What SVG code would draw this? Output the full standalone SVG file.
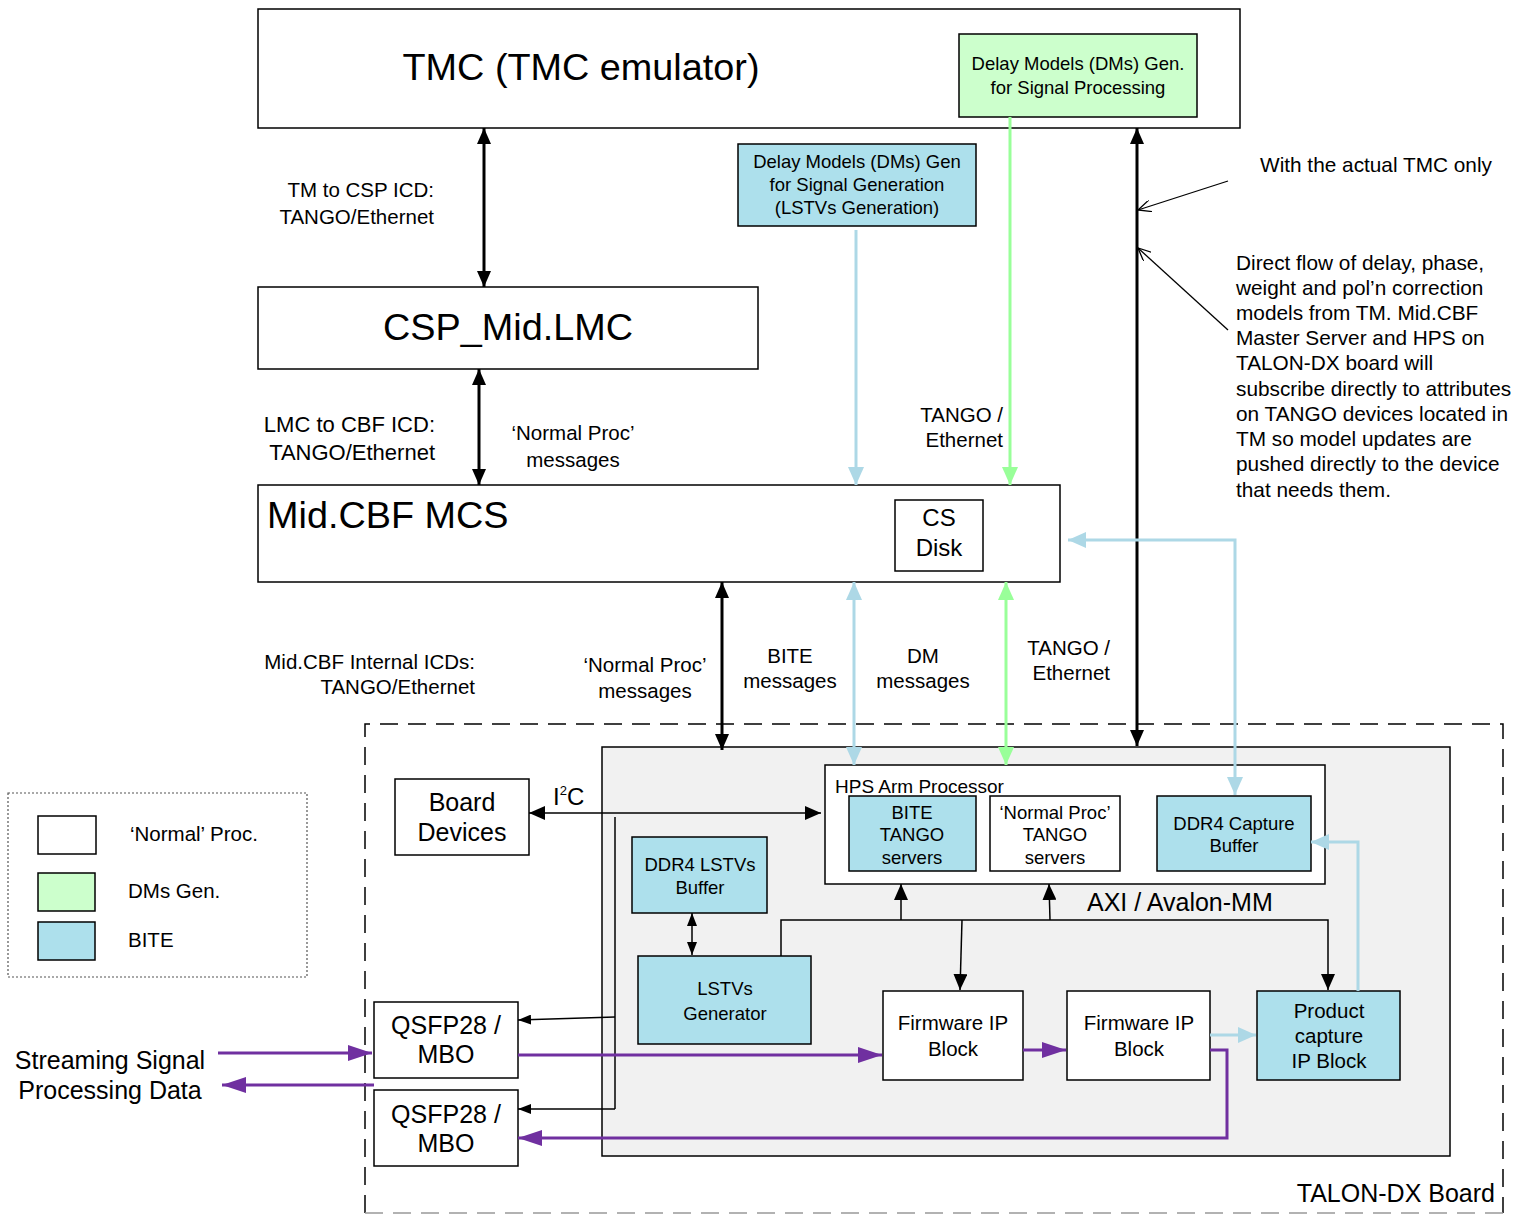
<svg xmlns="http://www.w3.org/2000/svg" width="1517" height="1215" viewBox="0 0 1517 1215">
<style>
text{font-family:"Liberation Sans",Arial,sans-serif;fill:#000}
.box{fill:#fff;stroke:#000;stroke-width:1.5}
.bite{fill:#ade0ec;stroke:#000;stroke-width:1.5}
.dm{fill:#ccffcc;stroke:#000;stroke-width:1.5}
.c{text-anchor:middle}
.e{text-anchor:end}
.blk{stroke:#000;stroke-width:3;fill:none}
.thin{stroke:#000;stroke-width:1.5;fill:none}
.blu{stroke:#add8e6;stroke-width:3;fill:none}
.grn{stroke:#99ff99;stroke-width:3;fill:none}
.pur{stroke:#7030a0;stroke-width:3;fill:none}
.f18{font-size:18.5px}
.f20{font-size:20.5px}
.f25{font-size:25px}
.big{font-size:37.8px}
</style>
<defs>
<marker id="ak" markerUnits="userSpaceOnUse" markerWidth="16" markerHeight="14" refX="16" refY="7" orient="auto-start-reverse"><path d="M0,0 L16,7 L0,14 z" fill="#000"/></marker>
<marker id="aks" markerUnits="userSpaceOnUse" markerWidth="13" markerHeight="10" refX="13" refY="5" orient="auto-start-reverse"><path d="M0,0 L13,5 L0,10 z" fill="#000"/></marker>
<marker id="ab" markerUnits="userSpaceOnUse" markerWidth="18" markerHeight="16" refX="18" refY="8" orient="auto-start-reverse"><path d="M0,0 L18,8 L0,16 z" fill="#add8e6"/></marker>
<marker id="ag" markerUnits="userSpaceOnUse" markerWidth="18" markerHeight="16" refX="18" refY="8" orient="auto-start-reverse"><path d="M0,0 L18,8 L0,16 z" fill="#99ff99"/></marker>
<marker id="ap" markerUnits="userSpaceOnUse" markerWidth="24" markerHeight="16" refX="24" refY="8" orient="auto-start-reverse"><path d="M0,0 L24,8 L0,16 z" fill="#7030a0"/></marker>
<marker id="ao" markerUnits="userSpaceOnUse" markerWidth="14" markerHeight="12" refX="13" refY="6" orient="auto"><path d="M0,0 L13,6 L0,12" fill="none" stroke="#000" stroke-width="1.3"/></marker>
</defs>

<!-- containers -->
<g id="talon-board">
<path d="M365,1213 V724 H1503 V1213" fill="none" stroke="#000" stroke-width="1.5" stroke-dasharray="18 10"/>
<path d="M365,1213 H1503" fill="none" stroke="#999" stroke-width="1.5" stroke-dasharray="18 10"/>
<text class="f25 e" x="1495" y="1202">TALON-DX Board</text>
</g>
<g id="fpga-area">
<rect x="602" y="747" width="848" height="409" fill="#f1f1f1" stroke="#000" stroke-width="1.5"/>
</g>

<g id="legend">
<rect x="8" y="793" width="299" height="184" fill="#fff" stroke="#555" stroke-width="1.2" stroke-dasharray="2 2"/>
<rect class="box" x="38" y="816" width="58" height="38"/>
<rect class="dm" x="38" y="873" width="57" height="38"/>
<rect class="bite" x="38" y="922" width="57" height="38"/>
<text class="f20" x="130" y="841">‘Normal’ Proc.</text>
<text class="f20" x="128" y="898">DMs Gen.</text>
<text class="f20" x="128" y="947">BITE</text>
</g>

<!-- nodes -->
<g id="tmc">
<rect class="box" x="258" y="9" width="982" height="119"/>
<text class="c big" x="581" y="80">TMC (TMC emulator)</text>
</g>
<g id="dm-gen-sp">
<rect class="dm" x="959" y="34" width="238" height="83"/>
<text class="c f18" x="1078" y="69.5">Delay Models (DMs) Gen.</text>
<text class="c f18" x="1078" y="93.5">for Signal Processing</text>
</g>
<g id="dm-gen-sg">
<rect class="bite" x="738" y="144" width="238" height="82"/>
<text class="c f18" x="857" y="167.5">Delay Models (DMs) Gen</text>
<text class="c f18" x="857" y="190.5">for Signal Generation</text>
<text class="c f18" x="857" y="213.5">(LSTVs Generation)</text>
</g>
<g id="csp-lmc">
<rect class="box" x="258" y="287" width="500" height="82"/>
<text class="c big" x="508" y="340">CSP_Mid.LMC</text>
</g>
<g id="mcs">
<rect class="box" x="258" y="485" width="802" height="97"/>
<text class="big" x="267" y="528">Mid.CBF MCS</text>
</g>
<g id="cs-disk">
<rect class="box" x="895" y="500" width="88" height="71"/>
<text class="c" x="939" y="526" font-size="24">CS</text>
<text class="c" x="939" y="556" font-size="24">Disk</text>
</g>
<g id="board-devices">
<rect class="box" x="395" y="779" width="134" height="76"/>
<text class="c f25" x="462" y="811">Board</text>
<text class="c f25" x="462" y="841">Devices</text>
</g>
<g id="hps">
<rect class="box" x="825" y="765" width="500" height="119"/>
<text x="835" y="792.5" font-size="19">HPS Arm Processor</text>
</g>
<g id="bite-tango">
<rect class="bite" x="849" y="796" width="127" height="75"/>
<text class="c f18" x="912" y="818.5">BITE</text>
<text class="c f18" x="912" y="840.5">TANGO</text>
<text class="c f18" x="912" y="863.5">servers</text>
</g>
<g id="normal-tango">
<rect class="box" x="990" y="796" width="130" height="75"/>
<text class="c f18" x="1055" y="818.5">‘Normal Proc’</text>
<text class="c f18" x="1055" y="840.5">TANGO</text>
<text class="c f18" x="1055" y="863.5">servers</text>
</g>
<g id="ddr4-capture">
<rect class="bite" x="1157" y="796" width="154" height="75"/>
<text class="c f18" x="1234" y="829.5">DDR4 Capture</text>
<text class="c f18" x="1234" y="851.5">Buffer</text>
</g>
<g id="ddr4-lstv">
<rect class="bite" x="632" y="837" width="135" height="76"/>
<text class="c f18" x="700" y="870.5">DDR4 LSTVs</text>
<text class="c f18" x="700" y="893.5">Buffer</text>
</g>
<g id="lstv-gen">
<rect class="bite" x="638" y="956" width="173" height="88"/>
<text class="c f18" x="725" y="995">LSTVs</text>
<text class="c f18" x="725" y="1020">Generator</text>
</g>
<g id="fw1">
<rect class="box" x="883" y="991" width="140" height="89"/>
<text class="c f20" x="953" y="1030">Firmware IP</text>
<text class="c f20" x="953" y="1056">Block</text>
</g>
<g id="fw2">
<rect class="box" x="1067" y="991" width="143" height="89"/>
<text class="c f20" x="1139" y="1030">Firmware IP</text>
<text class="c f20" x="1139" y="1056">Block</text>
</g>
<g id="product-capture">
<rect class="bite" x="1257" y="991" width="143" height="89"/>
<text class="c f20" x="1329" y="1018">Product</text>
<text class="c f20" x="1329" y="1043">capture</text>
<text class="c f20" x="1329" y="1068">IP Block</text>
</g>
<g id="qsfp1">
<rect class="box" x="374" y="1002" width="144" height="76"/>
<text class="c f25" x="446" y="1034">QSFP28 /</text>
<text class="c f25" x="446" y="1063">MBO</text>
</g>
<g id="qsfp2">
<rect class="box" x="374" y="1090" width="144" height="76"/>
<text class="c f25" x="446" y="1123">QSFP28 /</text>
<text class="c f25" x="446" y="1152">MBO</text>
</g>

<!-- connectors -->
<g id="connectors">
<line class="blk" x1="484" y1="128" x2="484" y2="287" marker-start="url(#ak)" marker-end="url(#ak)"/>
<line class="blk" x1="479" y1="369" x2="479" y2="485" marker-start="url(#ak)" marker-end="url(#ak)"/>
<line class="blu" x1="856" y1="230" x2="856" y2="485" marker-end="url(#ab)"/>
<line class="grn" x1="1010" y1="117" x2="1010" y2="485" marker-end="url(#ag)"/>
<line class="blk" x1="1137" y1="128" x2="1137" y2="746" marker-start="url(#ak)" marker-end="url(#ak)"/>
<line stroke="#000" stroke-width="1.3" x1="1228" y1="181" x2="1138" y2="210" marker-end="url(#ao)"/>
<line stroke="#000" stroke-width="1.3" x1="1228" y1="330" x2="1138" y2="248" marker-end="url(#ao)"/>
<line class="blk" x1="722" y1="582" x2="722" y2="750" marker-start="url(#ak)" marker-end="url(#ak)"/>
<line class="blu" x1="854" y1="582" x2="854" y2="765" marker-start="url(#ab)" marker-end="url(#ab)"/>
<line class="grn" x1="1006" y1="582" x2="1006" y2="765" marker-start="url(#ag)" marker-end="url(#ag)"/>
<path class="blu" d="M1068,540 H1235 V795" marker-start="url(#ab)" marker-end="url(#ab)"/>
<path class="blu" d="M1358,991 V842 H1311" marker-end="url(#ab)"/>
<line class="thin" x1="529" y1="813" x2="821" y2="813" marker-start="url(#ak)" marker-end="url(#ak)"/>
<path class="thin" d="M615,817 V1109"/>
<line class="thin" x1="615" y1="1017" x2="518" y2="1020" marker-end="url(#aks)"/>
<line class="thin" x1="615" y1="1109" x2="518" y2="1109" marker-end="url(#aks)"/>
<line class="thin" x1="692" y1="913" x2="692" y2="955" marker-start="url(#aks)" marker-end="url(#aks)"/>
<path class="thin" d="M781,956 V920 H1328 V990" marker-end="url(#ak)"/>
<line class="thin" x1="901" y1="920" x2="901" y2="884" marker-end="url(#ak)"/>
<line class="thin" x1="1050" y1="920" x2="1049" y2="884" marker-end="url(#ak)"/>
<line class="thin" x1="962" y1="920" x2="960" y2="990" marker-end="url(#ak)"/>
<line class="pur" x1="218" y1="1053" x2="372" y2="1053" marker-end="url(#ap)"/>
<line class="pur" x1="374" y1="1085" x2="222" y2="1085" marker-end="url(#ap)"/>
<line class="pur" x1="518" y1="1055" x2="882" y2="1055" marker-end="url(#ap)"/>
<line class="pur" x1="1023" y1="1050" x2="1066" y2="1050" marker-end="url(#ap)"/>
<path class="pur" d="M1210,1050 H1227 V1138 H518" marker-end="url(#ap)"/>
<line class="blu" x1="1210" y1="1035" x2="1256" y2="1035" marker-end="url(#ab)"/>
</g>

<!-- labels -->
<g id="labels">
<text class="e f20" x="434" y="197">TM to CSP ICD:</text>
<text class="e f20" x="434" y="224">TANGO/Ethernet</text>
<text class="e" x="435" y="431.5" font-size="22">LMC to CBF ICD:</text>
<text class="e" x="435" y="459.5" font-size="22">TANGO/Ethernet</text>
<text class="c f20" x="573" y="440">‘Normal Proc’</text>
<text class="c f20" x="573" y="467">messages</text>
<text class="e f20" x="1003" y="422">TANGO /</text>
<text class="e f20" x="1003" y="447">Ethernet</text>
<text x="1260" y="172" font-size="20.8">With the actual TMC only</text>
<text x="1236" font-size="20.8">
<tspan x="1236" y="270">Direct flow of delay, phase,</tspan>
<tspan x="1236" y="295">weight and pol’n correction</tspan>
<tspan x="1236" y="320">models from TM.  Mid.CBF</tspan>
<tspan x="1236" y="345">Master Server and HPS on</tspan>
<tspan x="1236" y="370">TALON-DX board will</tspan>
<tspan x="1236" y="396">subscribe directly to attributes</tspan>
<tspan x="1236" y="421">on TANGO devices located in</tspan>
<tspan x="1236" y="446">TM so model updates are</tspan>
<tspan x="1236" y="471">pushed directly to the device</tspan>
<tspan x="1236" y="497">that needs them.</tspan>
</text>
<text class="e f20" x="475" y="669">Mid.CBF Internal ICDs:</text>
<text class="e f20" x="475" y="694">TANGO/Ethernet</text>
<text class="c f20" x="645" y="672">‘Normal Proc’</text>
<text class="c f20" x="645" y="698">messages</text>
<text class="c f20" x="790" y="663">BITE</text>
<text class="c f20" x="790" y="688">messages</text>
<text class="c f20" x="923" y="663">DM</text>
<text class="c f20" x="923" y="688">messages</text>
<text class="e f20" x="1110" y="655">TANGO /</text>
<text class="e f20" x="1110" y="680">Ethernet</text>
<text x="553" y="805" font-size="24">I<tspan font-size="13" dy="-10">2</tspan><tspan dy="10">C</tspan></text>
<text x="1087" y="911" class="f25">AXI / Avalon-MM</text>
<text class="c f25" x="110" y="1069">Streaming Signal</text>
<text class="c f25" x="110" y="1099">Processing Data</text>
</g>
</svg>
